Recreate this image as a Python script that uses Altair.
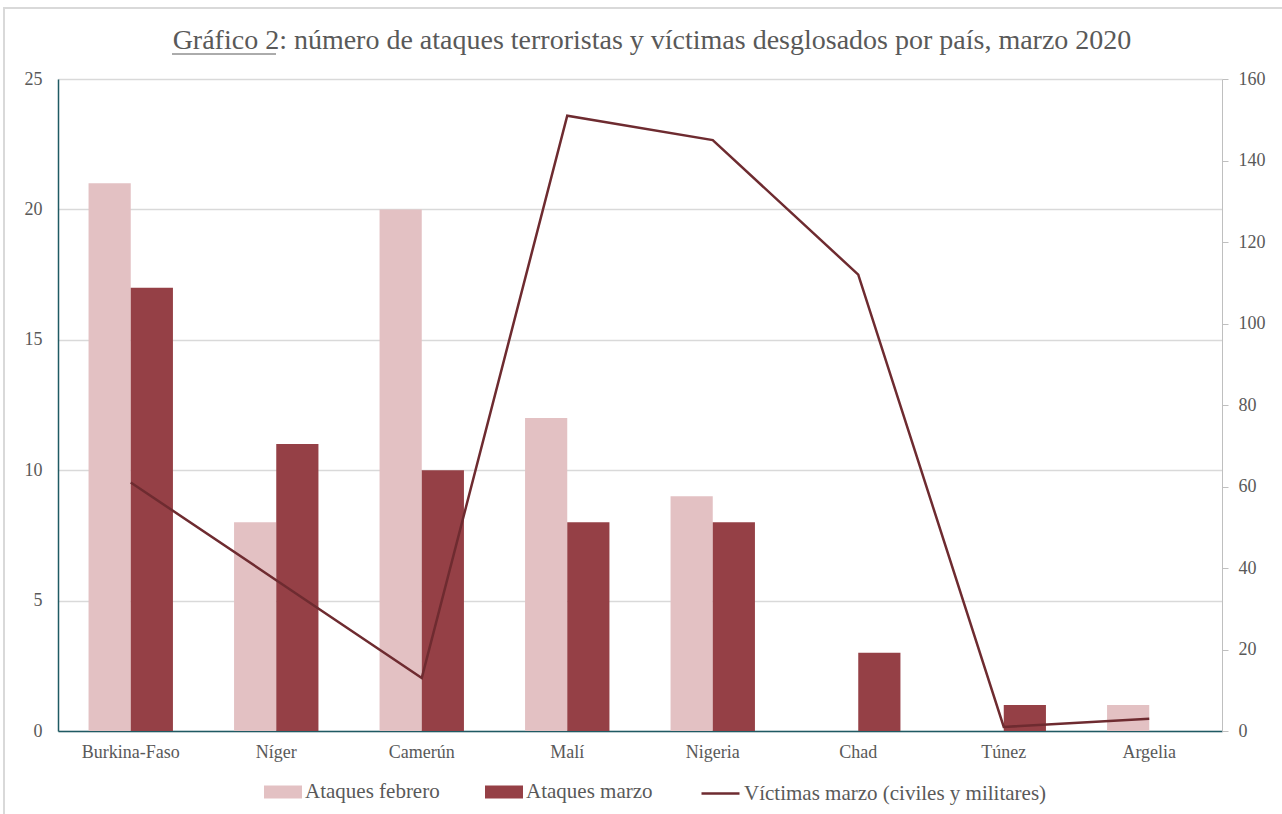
import altair as alt
import pandas as pd

countries = ["Burkina-Faso", "Níger", "Camerún", "Malí", "Nigeria", "Chad", "Túnez", "Argelia"]
ataques_febrero = [21, 8, 20, 12, 9, 0, 0, 1]
ataques_marzo = [17, 11, 10, 8, 8, 3, 1, 0]
victimas_marzo = [61, 37, 13, 151, 145, 112, 1, 3]

series_bars = ["Ataques febrero", "Ataques marzo"]
series_line = ["Víctimas marzo (civiles y militares)"]
left_ticks = [0, 5, 10, 15, 20, 25]
right_ticks = [0, 20, 40, 60, 80, 100, 120, 140, 160]

rows = []
for c, f, m in zip(countries, ataques_febrero, ataques_marzo):
    rows.append({"country": c, "serie": series_bars[0], "value": f})
    rows.append({"country": c, "serie": series_bars[1], "value": m})
df_bars = pd.DataFrame(rows)
df_line = pd.DataFrame({"country": countries, "victims": victimas_marzo, "label": series_line[0]})

FONT = "Liberation Serif"
GRAY = "#595959"
TEAL = "#1F5A63"

x_enc = alt.X("country:N", sort=countries, title=None,
              scale=alt.Scale(paddingInner=0.42, paddingOuter=0.21),
              axis=alt.Axis(labelAngle=0, ticks=False, domainColor=TEAL, domainWidth=1.5,
                            labelPadding=12, labelFontSize=18, labelColor=GRAY, labelFont=FONT))

# decorative chart frame and title underline
frame = alt.Chart(pd.DataFrame({"k": [0]})).mark_rect(fill=None, stroke="#D9D9D9", strokeWidth=2).encode(
    x=alt.value(-54), x2=alt.value(1300), y=alt.value(-71), y2=alt.value(900))
underline = alt.Chart(pd.DataFrame({"k": [0]})).mark_rule(color=GRAY, strokeWidth=1).encode(
    x=alt.value(114), x2=alt.value(218), y=alt.value(-25))

bars = alt.Chart(df_bars).mark_bar().encode(
    x=x_enc,
    xOffset=alt.XOffset("serie:N", sort=series_bars, scale=alt.Scale(paddingInner=0, paddingOuter=0)),
    y=alt.Y("value:Q", title=None, scale=alt.Scale(domain=[0, 25], nice=False),
            axis=alt.Axis(orient="left", values=left_ticks, ticks=False, domainColor=TEAL, domainWidth=1.5,
                          gridColor="#D9D9D9", gridWidth=1.5, labelPadding=16, labelFontSize=18,
                          labelColor=GRAY, labelFont=FONT)),
    color=alt.Color("serie:N", sort=series_bars,
                    scale=alt.Scale(domain=series_bars, range=["#E3C1C3", "#954046"]),
                    legend=alt.Legend(orient="none", legendX=206, legendY=694, title=None,
                                      direction="horizontal",
                                      symbolType="M-1,-0.34H1V0.34H-1Z", symbolSize=1444,
                                      symbolStrokeWidth=0, labelFontSize=21, labelColor=GRAY,
                                      labelFont=FONT, columnPadding=45, labelOffset=3, labelLimit=0)),
)

line = alt.Chart(df_line).mark_line(strokeWidth=2.5).encode(
    x=alt.X("country:N", sort=countries),
    y=alt.Y("victims:Q", title=None, scale=alt.Scale(domain=[0, 160], nice=False),
            axis=alt.Axis(orient="right", values=right_ticks, grid=False, domainColor="#BFBFBF",
                          tickColor="#BFBFBF", tickSize=6, labelPadding=10, labelFontSize=18,
                          labelColor=GRAY, labelFont=FONT)),
    stroke=alt.Stroke("label:N", scale=alt.Scale(domain=series_line, range=["#6E2B30"]),
                      legend=alt.Legend(orient="none", legendX=642, legendY=694, title=None,
                                        symbolType="stroke",
                                        symbolSize=1444, symbolStrokeWidth=2.5, labelFontSize=21,
                                        labelColor=GRAY, labelFont=FONT, labelOffset=3, labelLimit=0)),
)

chart = alt.layer(frame, bars, line, underline).resolve_scale(y="independent", color="independent").properties(
    width=1164, height=652,
    autosize=alt.AutoSizeParams(type="none"),
    padding={"left": 58, "top": 79, "right": 60, "bottom": 83},
    title=alt.TitleParams(
        "Gráfico 2: número de ataques terroristas y víctimas desglosados por país, marzo 2020",
        font=FONT, fontSize=28, fontWeight="normal", color=GRAY, offset=-48, anchor="middle", dx=12),
).configure_view(stroke=None).configure_legend(padding=0)

chart.save("out.html", embed_options={"renderer": "svg", "actions": False})
